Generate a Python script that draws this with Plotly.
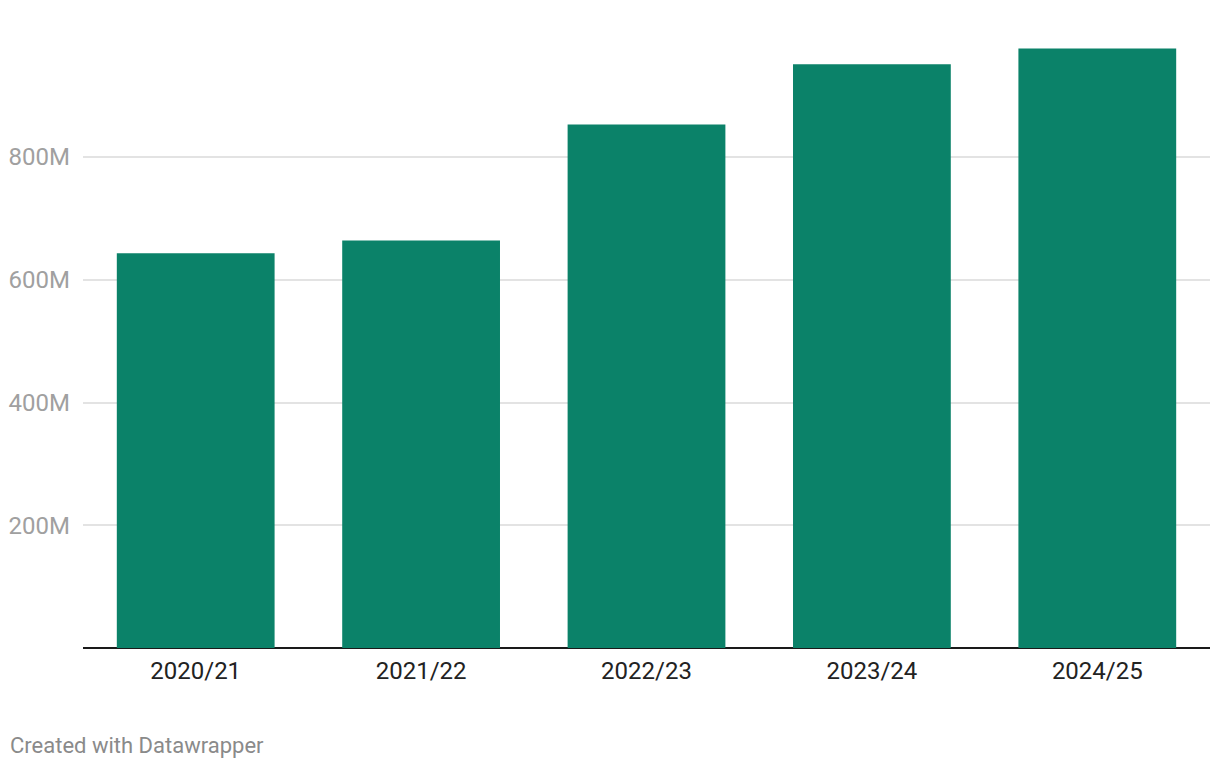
import plotly.graph_objects as go

seasons = ["2020/21", "2021/22", "2022/23", "2023/24", "2024/25"]
values_m = [643, 664, 853, 951, 977]  # millions
ytick_vals_m = [200, 400, 600, 800]
ytick_text = ["200M", "400M", "600M", "800M"]

values = [v * 1e6 for v in values_m]
tickvals = [v * 1e6 for v in ytick_vals_m]

fig = go.Figure(go.Bar(
    x=seasons, y=values,
    marker=dict(color="#0b8269", line=dict(width=0)),
    width=0.7,
    hoverinfo="x+y",
))

fig.update_layout(
    width=1204, height=752,
    margin=dict(l=75, r=2, t=0, b=112),
    paper_bgcolor="white", plot_bgcolor="white",
    font=dict(family="Roboto", size=24, color="#222222"),
    showlegend=False,
    bargap=0.3,
    xaxis=dict(
        showgrid=False, zeroline=False,
        showline=False,
        ticks="", ticklabelstandoff=6,
        tickfont=dict(size=24, color="#222222"),
    ),
    yaxis=dict(
        range=[0, 1042.8e6],
        tickvals=tickvals, ticktext=ytick_text,
        showgrid=True, gridcolor="#e3e3e3", gridwidth=1.5,
        zeroline=True, zerolinecolor="#1a1a1a", zerolinewidth=2,
        showline=False, ticks="",
        ticklabelstandoff=12,
        tickfont=dict(size=24, color="#a0a0a0"),
    ),
    annotations=[dict(
        text="Created with Datawrapper",
        xref="paper", yref="paper",
        x=0, y=0, xanchor="left", yanchor="middle",
        xshift=-75, yshift=-97,
        showarrow=False,
        font=dict(family="Roboto", size=22, color="#8a8a8a"),
    )],
)

fig.write_html("out.html")
